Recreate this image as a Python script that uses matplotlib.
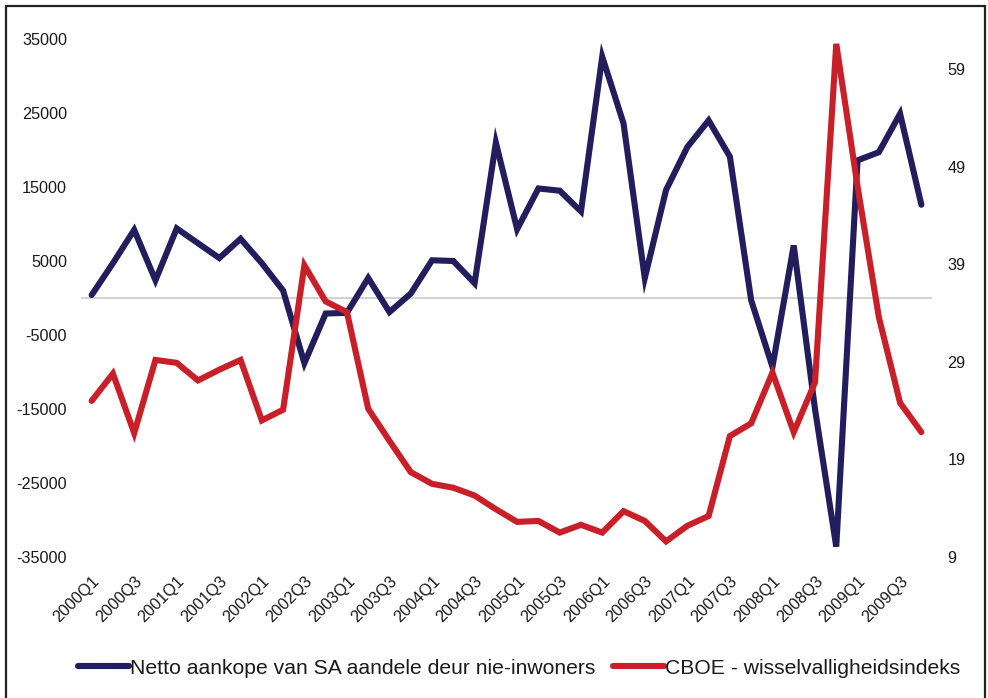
import matplotlib
matplotlib.use("Agg")
import matplotlib.pyplot as plt
from matplotlib.patches import Rectangle

quarters = ["2000Q1", "2000Q2", "2000Q3", "2000Q4", "2001Q1", "2001Q2", "2001Q3", "2001Q4",
            "2002Q1", "2002Q2", "2002Q3", "2002Q4", "2003Q1", "2003Q2", "2003Q3", "2003Q4",
            "2004Q1", "2004Q2", "2004Q3", "2004Q4", "2005Q1", "2005Q2", "2005Q3", "2005Q4",
            "2006Q1", "2006Q2", "2006Q3", "2006Q4", "2007Q1", "2007Q2", "2007Q3", "2007Q4",
            "2008Q1", "2008Q2", "2008Q3", "2008Q4", "2009Q1", "2009Q2", "2009Q3", "2009Q4"]

net_purchases = [400, 4700, 9200, 2400, 9400, 7400, 5400, 8000, 4700, 1000,
                 -8800, -2100, -2000, 2700, -1900, 600, 5100, 5000, 2000, 21000,
                 9300, 14800, 14500, 11700, 32600, 23600, 2700, 14600, 20400, 24000,
                 19100, -300, -9300, 7100, -15000, -33600, 18600, 19700, 24900, 12600]

cboe_vix = [25.0, 27.8, 21.7, 29.2, 28.9, 27.1, 28.2, 29.2, 23.0, 24.1,
            38.9, 35.2, 34.1, 24.2, 20.9, 17.7, 16.5, 16.1, 15.3, 13.9,
            12.6, 12.7, 11.5, 12.3, 11.5, 13.7, 12.7, 10.6, 12.2, 13.2,
            21.4, 22.7, 27.9, 21.8, 26.9, 61.6, 47.0, 33.6, 24.8, 21.8]

left_ticks = [-35000, -25000, -15000, -5000, 5000, 15000, 25000, 35000]
right_ticks = [9, 19, 29, 39, 49, 59]

label_net = "Netto aankope van SA aandele deur nie-inwoners"
label_vix = "CBOE - wisselvalligheidsindeks"

BLUE = "#221d5c"
RED = "#c81f29"
TXT = "#1a1a1a"

plt.rcParams["font.family"] = ["Liberation Sans", "DejaVu Sans"]

W, H = 988, 698
fig = plt.figure(figsize=(W / 100, H / 100), dpi=100)
fig.patch.set_facecolor("white")

ax_l, ax_r, ax_t, ax_b = 81, 932, 39, 557
ax = fig.add_axes([ax_l / W, 1 - ax_b / H, (ax_r - ax_l) / W, (ax_b - ax_t) / H])
ax2 = ax.twinx()

x = list(range(len(quarters)))
ax.axhline(0, color="#cfcfcf", lw=1.3, zorder=1)
ln1, = ax.plot(x, net_purchases, color=BLUE, lw=4.4, solid_joinstyle="miter",
               solid_capstyle="round", zorder=3)
ln2, = ax2.plot(x, cboe_vix, color=RED, lw=4.4, solid_joinstyle="miter",
                solid_capstyle="round", zorder=3)

ax.set_xlim(-0.5, len(quarters) - 0.5)
ax.set_ylim(-35000, 35000)
ax2.set_ylim(9, 62.1)

ax.set_yticks(left_ticks)
ax.set_yticklabels([str(v) for v in left_ticks])
ax2.set_yticks(right_ticks)
ax2.set_yticklabels([str(v) for v in right_ticks])

ax.set_xticks(x[::2])
ax.set_xticklabels(quarters[::2], rotation=45, ha="right", va="top",
                   rotation_mode="anchor")

for a in (ax, ax2):
    for s in a.spines.values():
        s.set_visible(False)
    a.set_facecolor("none")

ax.tick_params(axis="y", length=0, pad=10, labelsize=11.7, labelcolor=TXT)
ax2.tick_params(axis="y", length=0, pad=11, labelsize=11.7, labelcolor=TXT)
ax.tick_params(axis="x", length=0, pad=12, labelsize=11.7, labelcolor=TXT)

fig.legend([ln1, ln2], [label_net, label_vix], loc="center",
           bbox_to_anchor=(519 / W, 1 - 668 / H), ncol=2, frameon=False,
           fontsize=15.2, handlelength=2.4, handletextpad=0.05,
           columnspacing=0.85, labelcolor=TXT)

fig.add_artist(Rectangle((6 / W, -0.02), (985 - 6) / W, 1 - 6 / H + 0.02,
                         transform=fig.transFigure, fill=False,
                         edgecolor="#222222", lw=1.6))

fig.savefig("out.png", dpi=100)
